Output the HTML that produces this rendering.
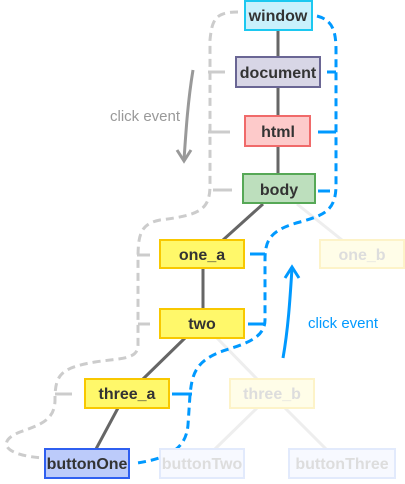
<!DOCTYPE html>
<html><head><style>body{margin:0;background:#fff}svg text{font-family:"Liberation Sans","DejaVu Sans",sans-serif}</style></head><body>
<svg width="405" height="479" viewBox="0 0 405 479" xmlns="http://www.w3.org/2000/svg">
<g stroke="#eee" stroke-width="3" fill="none">
<line x1="297" y1="204" x2="342" y2="240"/><line x1="217" y1="338" x2="257" y2="379"/>
<line x1="257" y1="408" x2="215" y2="449"/><line x1="285" y1="408" x2="326" y2="449"/>
</g>
<g stroke="#666" stroke-width="3" fill="none">
<line x1="278" y1="30" x2="278" y2="174"/><line x1="263" y1="204" x2="223" y2="240"/>
<line x1="203" y1="268" x2="203" y2="309"/><line x1="185" y1="338" x2="143" y2="379"/>
<line x1="118" y1="408" x2="96" y2="449"/>
</g>
<g stroke="#ccc" stroke-width="3" fill="none" stroke-dasharray="8,5">
<path d="M238 12 C215 12 212 20 210 40 L210 185 C210 210 200 215 160 220 C140 224 138 235 138 260 L138 345 C138 360 120 358 95 362 C60 368 55 375 55 400 C55 420 40 425 20 432 C-5 442 5 456 45 458"/>
</g>
<g stroke="#ccc" stroke-width="3" fill="none">
<line x1="208" y1="72" x2="225" y2="72"/><line x1="208" y1="132" x2="230" y2="132"/>
<line x1="213" y1="190" x2="232" y2="190"/><line x1="137" y1="255" x2="150" y2="255"/>
<line x1="138" y1="324" x2="150" y2="324"/><line x1="55" y1="394" x2="72" y2="394"/>
</g>
<g stroke="#09f" stroke-width="3" fill="none" stroke-dasharray="8,5">
<path d="M317 16 C332 20 336 30 336 50 L336 185 C336 210 325 215 300 222 C270 230 265 240 265 260 L265 320 C265 340 240 345 220 352 C195 362 192 375 190 395 L188 425 C186 448 170 458 137 463"/>
</g>
<g stroke="#09f" stroke-width="3" fill="none">
<line x1="327" y1="72" x2="336" y2="72"/><line x1="318" y1="132" x2="336" y2="132"/>
<line x1="318" y1="191" x2="330" y2="191"/><line x1="250" y1="254" x2="265" y2="254"/>
<line x1="248" y1="324" x2="265" y2="324"/><line x1="172" y1="394" x2="192" y2="394"/>
</g>
<path d="M193 70 C188 100 186 130 184 160" stroke="#999" stroke-width="3" fill="none"/>
<path d="M177 150 L184 161 L191 150" stroke="#999" stroke-width="3" fill="none"/>
<path d="M283 358 C288 330 290 300 292 268" stroke="#09f" stroke-width="3" fill="none"/>
<path d="M285 278 L292 267 L299 278" stroke="#09f" stroke-width="3" fill="none"/>
<text x="110" y="121" font-size="15" fill="#999">click event</text>
<text x="308" y="328" font-size="15" fill="#09f">click event</text>
<g font-size="16" font-weight="bold" text-anchor="middle" stroke-width="2">
<rect x="245" y="1" width="67" height="29" fill="#c9f1fc" stroke="#1cc8f0"/><text x="278" y="21" fill="#333">window</text>
<rect x="236" y="57" width="84" height="30" fill="#d8d6e6" stroke="#6a6694"/><text x="278" y="78" fill="#333">document</text>
<rect x="245" y="116" width="65" height="30" fill="#fdcaca" stroke="#f06a6a"/><text x="278" y="137" fill="#333">html</text>
<rect x="243" y="174" width="72" height="29" fill="#bddfbd" stroke="#56a856"/><text x="279" y="195" fill="#333">body</text>
<rect x="160" y="240" width="84" height="28" fill="#fff86a" stroke="#f8c800"/><text x="202" y="260" fill="#333">one_a</text>
<rect x="320" y="240" width="84" height="28" fill="#fffde8" stroke="#fdf3c8"/><text x="362" y="260" fill="#ddd">one_b</text>
<rect x="160" y="309" width="84" height="29" fill="#fff86a" stroke="#f8c800"/><text x="202" y="329" fill="#333">two</text>
<rect x="85" y="379" width="84" height="29" fill="#fff86a" stroke="#f8c800"/><text x="127" y="399" fill="#333">three_a</text>
<rect x="230" y="379" width="84" height="29" fill="#fffde8" stroke="#fdf3c8"/><text x="272" y="399" fill="#ddd">three_b</text>
<rect x="45" y="449" width="84" height="29" fill="#bccbfa" stroke="#2f5ff0"/><text x="87" y="469" fill="#333">buttonOne</text>
<rect x="160" y="449" width="84" height="29" fill="#f7f9ff" stroke="#e2eafc"/><text x="202" y="469" fill="#ddd">buttonTwo</text>
<rect x="289" y="449" width="106" height="29" fill="#f7f9ff" stroke="#e2eafc"/><text x="342" y="469" fill="#ddd">buttonThree</text>
</g>
</svg>
</body></html>
